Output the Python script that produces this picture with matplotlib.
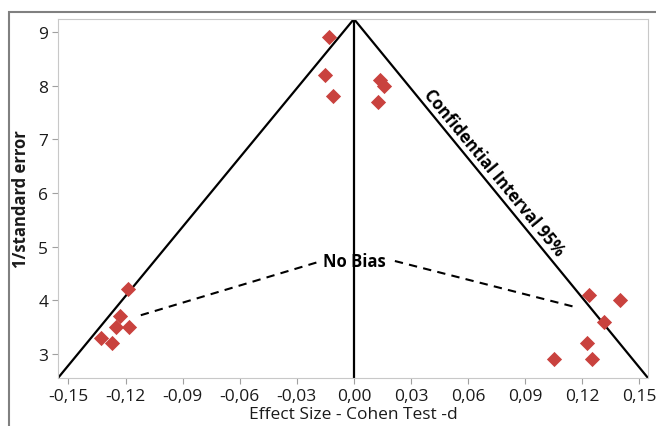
import matplotlib
matplotlib.use("Agg")
import matplotlib.pyplot as plt
from matplotlib.patches import Rectangle

plt.rcParams["font.family"] = ["Open Sans", "DejaVu Sans"]

# study points (effect size, 1/standard error)
effect = [-0.013, -0.015, -0.011, 0.0135, 0.016, 0.0125,
          -0.1185, -0.123, -0.125, -0.118, -0.133, -0.127,
          0.1237, 0.140, 0.1316, 0.1227, 0.105, 0.125]
precision = [8.9, 8.2, 7.8, 8.1, 8.0, 7.7,
             4.2, 3.7, 3.5, 3.5, 3.3, 3.2,
             4.1, 4.0, 3.6, 3.2, 2.9, 2.9]

# funnel: apex and the two base corners
apex = (0.0, 9.24)
base_left = (-0.1555, 2.55)
base_right = (0.1545, 2.55)

# "No Bias" leader lines
left_dash_x = [-0.112, -0.018]
left_dash_y = [3.72, 4.72]
right_dash_x = [0.0215, 0.1165]
right_dash_y = [4.73, 3.87]

xticks = [-0.15, -0.12, -0.09, -0.06, -0.03, 0.0, 0.03, 0.06, 0.09, 0.12, 0.15]
yticks = [3, 4, 5, 6, 7, 8, 9]

fig = plt.figure(figsize=(6.56, 4.27), dpi=100)
ax = fig.add_axes([58 / 656, 1 - 379 / 427, 590 / 656, 359 / 427])

# outer gray frame
fig.patches.append(Rectangle((9 / 656, -0.1), 1.2, 1 - 13 / 427 + 0.1,
                             transform=fig.transFigure, fill=False,
                             edgecolor="#808080", linewidth=1.5))

ax.plot([base_left[0], apex[0], base_right[0]], [base_left[1], apex[1], base_right[1]],
        color="black", linewidth=1.6, zorder=2)
ax.plot([0, 0], [base_left[1], apex[1]], color="black", linewidth=1.6, zorder=2)

ax.plot(left_dash_x, left_dash_y, color="black", linestyle=(0, (4, 3)), linewidth=1.5)
ax.plot(right_dash_x, right_dash_y, color="black", linestyle=(0, (4, 3)), linewidth=1.5)
ax.text(0.0, 4.73, "No Bias", ha="center", va="center", fontsize=12, fontweight="bold")

ax.text(0.0735, 6.38, "Confidential Interval 95%", rotation=-50.5, rotation_mode="anchor",
        ha="center", va="center", fontsize=12, fontweight="bold")

ax.scatter(effect, precision, marker="D", s=60, color="#C9423E", zorder=3, linewidths=0)

ax.set_xlim(base_left[0], base_right[0])
ax.set_ylim(base_left[1], apex[1])
ax.set_xticks(xticks)
ax.set_xticklabels([f"{t:.2f}".replace(".", ",") for t in xticks])
ax.set_yticks(yticks)
ax.tick_params(labelsize=12.5, color="#a0a0a0", length=4, labelcolor="#1a1a1a", pad=3)
for s in ax.spines.values():
    s.set_color("#c8c8c8")

ax.set_xlabel("Effect Size - Cohen Test -d", fontsize=12.5, color="#1a1a1a", labelpad=2)
ax.set_ylabel("1/standard error", fontsize=12, fontweight="bold", color="#1a1a1a", labelpad=6)

fig.savefig("out.png", dpi=100)
